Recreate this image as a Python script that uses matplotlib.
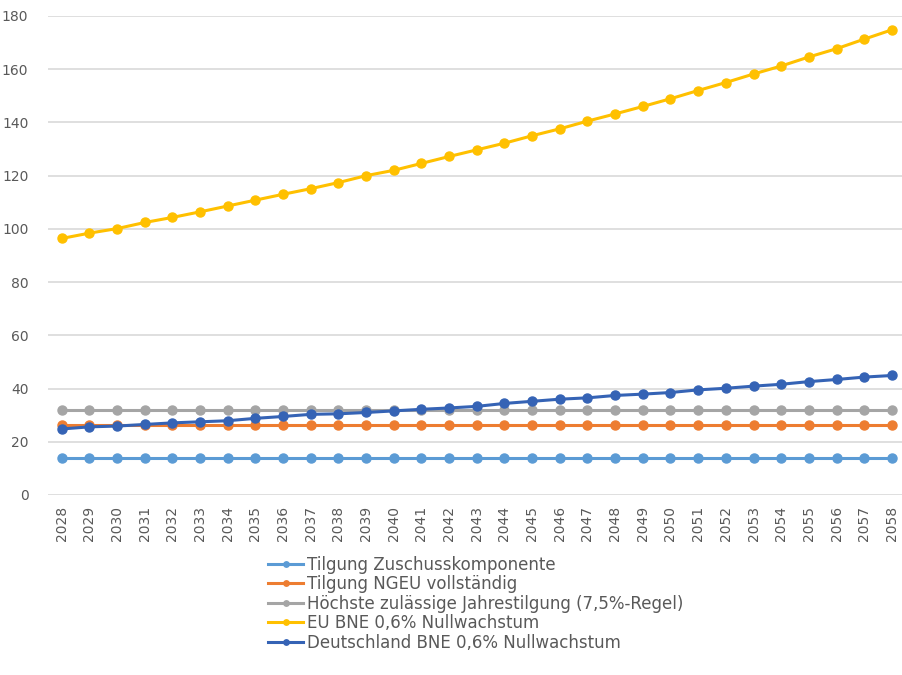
import matplotlib
matplotlib.use("Agg")
from matplotlib import pyplot as plt

years = list(range(2028, 2059))

zuschuss = [13.9] * 31
ngeu = [26.4] * 31
hoechst = [32.1] * 31
eu_bne = [96.4, 98.4, 100.1, 102.4, 104.3, 106.4, 108.6, 110.8, 113.0, 115.1,
          117.4, 120.0, 122.0, 124.6, 127.2, 129.7, 132.2, 135.0, 137.6, 140.5,
          143.2, 146.0, 148.9, 152.0, 155.0, 158.2, 161.2, 164.6, 167.7, 171.3,
          174.8]
de_bne = [24.8, 25.6, 25.9, 26.5, 27.1, 27.5, 27.9, 28.8, 29.5, 30.3,
          30.5, 31.0, 31.6, 32.2, 32.7, 33.3, 34.4, 35.2, 36.0, 36.5,
          37.4, 37.9, 38.5, 39.5, 40.1, 40.9, 41.6, 42.6, 43.4, 44.3,
          44.9]

labels = ["Tilgung Zuschusskomponente",
          "Tilgung NGEU vollständig",
          "Höchste zulässige Jahrestilgung (7,5%-Regel)",
          "EU BNE 0,6% Nullwachstum",
          "Deutschland BNE 0,6% Nullwachstum"]
colors = ["#5B9BD5", "#ED7D31", "#A5A5A5", "#FFC000", "#3563B5"]
series = [zuschuss, ngeu, hoechst, eu_bne, de_bne]

fig = plt.figure(figsize=(9.03, 6.75), dpi=100)
ax = fig.add_axes([0.053, 0.2667, 0.95, 0.7096])

x = list(range(len(years)))
handles = []
for vals, col, lab in zip(series, colors, labels):
    h, = ax.plot(x, vals, color=col, linewidth=2.2, marker="o",
                 markersize=6.5, label=lab)
    handles.append(h)

ax.set_xlim(-0.5, len(years) - 0.5)
ax.set_ylim(0, 180)
ax.set_yticks(range(0, 181, 20))
ax.set_xticks(x)
ax.set_xticklabels([str(y) for y in years], rotation=90)
ax.tick_params(axis="both", length=0, colors="#595959", labelsize=10)
ax.tick_params(axis="y", pad=14)
ax.tick_params(axis="x", pad=8)
ax.grid(axis="y", color="#d9d9d9", linewidth=1.2)
ax.set_axisbelow(True)
for s in ax.spines.values():
    s.set_visible(False)

fig.legend(handles=handles, loc="upper left", bbox_to_anchor=(0.297, 0.177),
           frameon=False, fontsize=12, labelcolor="#595959",
           handlelength=2.1, handletextpad=0.2, labelspacing=0.09,
           markerscale=0.6, borderaxespad=0, borderpad=0)

fig.savefig("out.png", dpi=100)
